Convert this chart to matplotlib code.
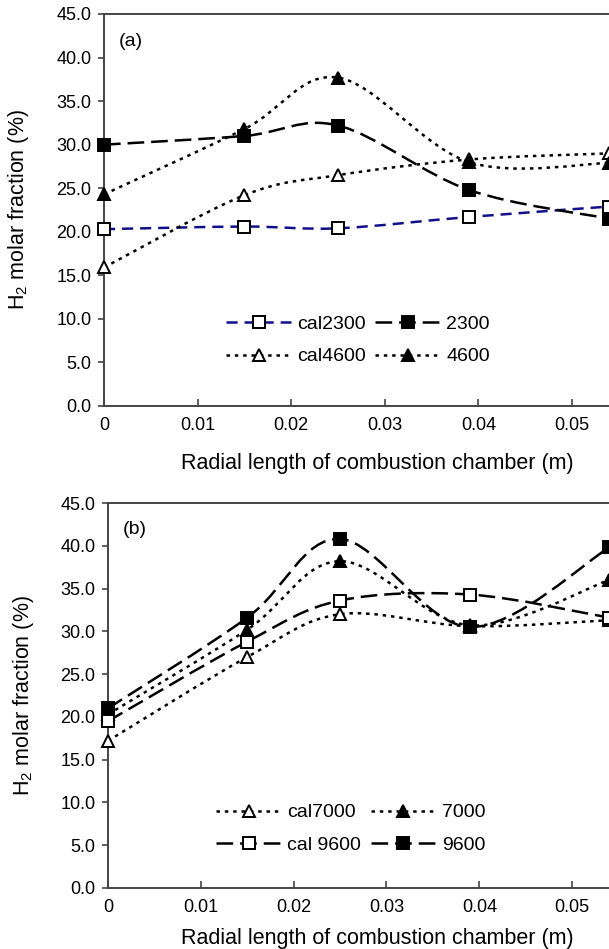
import matplotlib
matplotlib.use("Agg")
import matplotlib.pyplot as plt
from matplotlib.lines import Line2D
from matplotlib.patches import PathPatch
from matplotlib.path import Path
from matplotlib.ticker import FormatStrFormatter, FixedFormatter
import numpy as np

# positions radiales (m)
radial = [0.0, 0.015, 0.025, 0.039, 0.054]

# (a) 2300 / 4600
cal2300 = [20.3, 20.6, 20.4, 21.7, 22.9]
exp2300 = [30.0, 31.0, 32.2, 24.8, 21.5]
cal4600 = [15.9, 24.2, 26.5, 28.3, 29.0]
exp4600 = [24.3, 31.8, 37.7, 28.0, 27.9]

# (b) 7000 / 9600
cal7000 = [17.2, 27.0, 32.0, 30.6, 31.3]
exp7000 = [20.3, 30.2, 38.2, 30.7, 36.0]
cal9600 = [19.5, 28.8, 33.6, 34.3, 31.6]
exp9600 = [21.0, 31.6, 40.8, 30.5, 39.8]

xticks = [0, 0.01, 0.02, 0.03, 0.04, 0.05]
xtick_labels = ["0", "0.01", "0.02", "0.03", "0.04", "0.05"]

plt.rcParams["font.family"] = ["Liberation Sans", "DejaVu Sans"]
plt.rcParams["font.size"] = 13
plt.rcParams["mathtext.default"] = "regular"
plt.rcParams["lines.scale_dashes"] = False

NAVY = "#10108a"
LONG = (0, (12, 5))
MED = (0, (8, 5))
DOT = (0, (2.5, 3.5))
LABEL_SIZE = 15.5
LEGEND_SIZE = 14

W, H = 609, 949


def smooth_path(ax, x, y):
    """Courbe lissee type Excel (Bezier, Catmull-Rom) en coordonnees ecran."""
    pts = ax.transData.transform(np.column_stack([x, y]))
    n = len(pts)
    verts = [pts[0]]
    codes = [Path.MOVETO]
    for i in range(n - 1):
        p0 = pts[i - 1] if i > 0 else pts[i]
        p1 = pts[i]
        p2 = pts[i + 1]
        p3 = pts[i + 2] if i + 2 < n else pts[i + 1]
        c1 = p1 + (p2 - p0) / 6.0
        c2 = p2 - (p3 - p1) / 6.0
        verts += [c1, c2, p2]
        codes += [Path.CURVE4] * 3
    verts = ax.transData.inverted().transform(np.array(verts))
    return Path(verts, codes)


def draw_series(ax, y, color, ls, marker, filled, lw=1.8):
    patch = PathPatch(smooth_path(ax, radial, y), fill=False, edgecolor=color,
                      linestyle=ls, linewidth=lw, zorder=2)
    ax.add_patch(patch)
    ax.plot(radial, y, linestyle="none", marker=marker, markersize=9,
            markeredgewidth=1.4, markeredgecolor="black",
            markerfacecolor="black" if filled else "white",
            zorder=3, clip_on=False)
    return Line2D([], [], color=color, linestyle=ls, linewidth=lw,
                  marker=marker, markersize=9, markeredgewidth=1.4,
                  markeredgecolor="black",
                  markerfacecolor="black" if filled else "white")


def setup_axes(ax, tag, xlabel_pos):
    ax.set_xlim(0, 0.06)
    ax.set_ylim(0, 45)
    ax.set_xticks(xticks)
    ax.xaxis.set_major_formatter(FixedFormatter(xtick_labels))
    ax.set_yticks(np.arange(0, 46, 5))
    ax.yaxis.set_major_formatter(FormatStrFormatter("%.1f"))
    ax.tick_params(axis="x", direction="in", length=5, width=1.2, pad=8,
                   color="#444444")
    ax.tick_params(axis="y", direction="out", length=4, width=1.2, pad=5,
                   color="#444444")
    for side in ["left", "bottom", "top"]:
        ax.spines[side].set_color("#444444")
        ax.spines[side].set_linewidth(1.4)
    ax.spines["right"].set_visible(False)
    ax.set_xlabel("Radial length of combustion chamber (m)", fontsize=LABEL_SIZE)
    ax.set_ylabel("H$_2$ molar fraction (%)", fontsize=LABEL_SIZE)
    ax.xaxis.set_label_coords(*xlabel_pos)
    ax.yaxis.set_label_coords(-0.13, 0.5)
    ax.text(0.027, 0.93, tag, transform=ax.transAxes, va="center", ha="left",
            fontsize=LEGEND_SIZE)


fig = plt.figure(figsize=(W / 100, H / 100), dpi=100)

# panneau (a)
ax1 = fig.add_axes([104 / W, (H - 406) / H, 561.6 / W, 392 / H])
setup_axes(ax1, "(a)", (0.486, -0.12))
h_c23 = draw_series(ax1, cal2300, NAVY, MED, "s", False)
h_23 = draw_series(ax1, exp2300, "black", LONG, "s", True)
h_c46 = draw_series(ax1, cal4600, "black", DOT, "^", False)
h_46 = draw_series(ax1, exp4600, "black", DOT, "^", True)
ax1.legend([h_c23, h_c46, h_23, h_46], ["cal2300", "cal4600", "2300", "4600"],
           ncol=2, frameon=False, numpoints=1, loc="upper left",
           bbox_to_anchor=(0.2, 0.257), borderpad=0, handlelength=3.35,
           handletextpad=0.3, columnspacing=0.5, labelspacing=0.78,
           fontsize=LEGEND_SIZE)

# panneau (b)
ax2 = fig.add_axes([108 / W, (H - 888) / H, 557 / W, 385 / H])
setup_axes(ax2, "(b)", (0.483, -0.105))
h_c70 = draw_series(ax2, cal7000, "black", DOT, "^", False)
h_70 = draw_series(ax2, exp7000, "black", DOT, "^", True)
h_c96 = draw_series(ax2, cal9600, "black", LONG, "s", False)
h_96 = draw_series(ax2, exp9600, "black", LONG, "s", True)
ax2.legend([h_c70, h_c96, h_70, h_96], ["cal7000", "cal 9600", "7000", "9600"],
           ncol=2, frameon=False, numpoints=1, loc="upper left",
           bbox_to_anchor=(0.177, 0.244), borderpad=0, handlelength=3.35,
           handletextpad=0.3, columnspacing=0.5, labelspacing=0.78,
           fontsize=LEGEND_SIZE)

fig.savefig("out.png", dpi=100)
